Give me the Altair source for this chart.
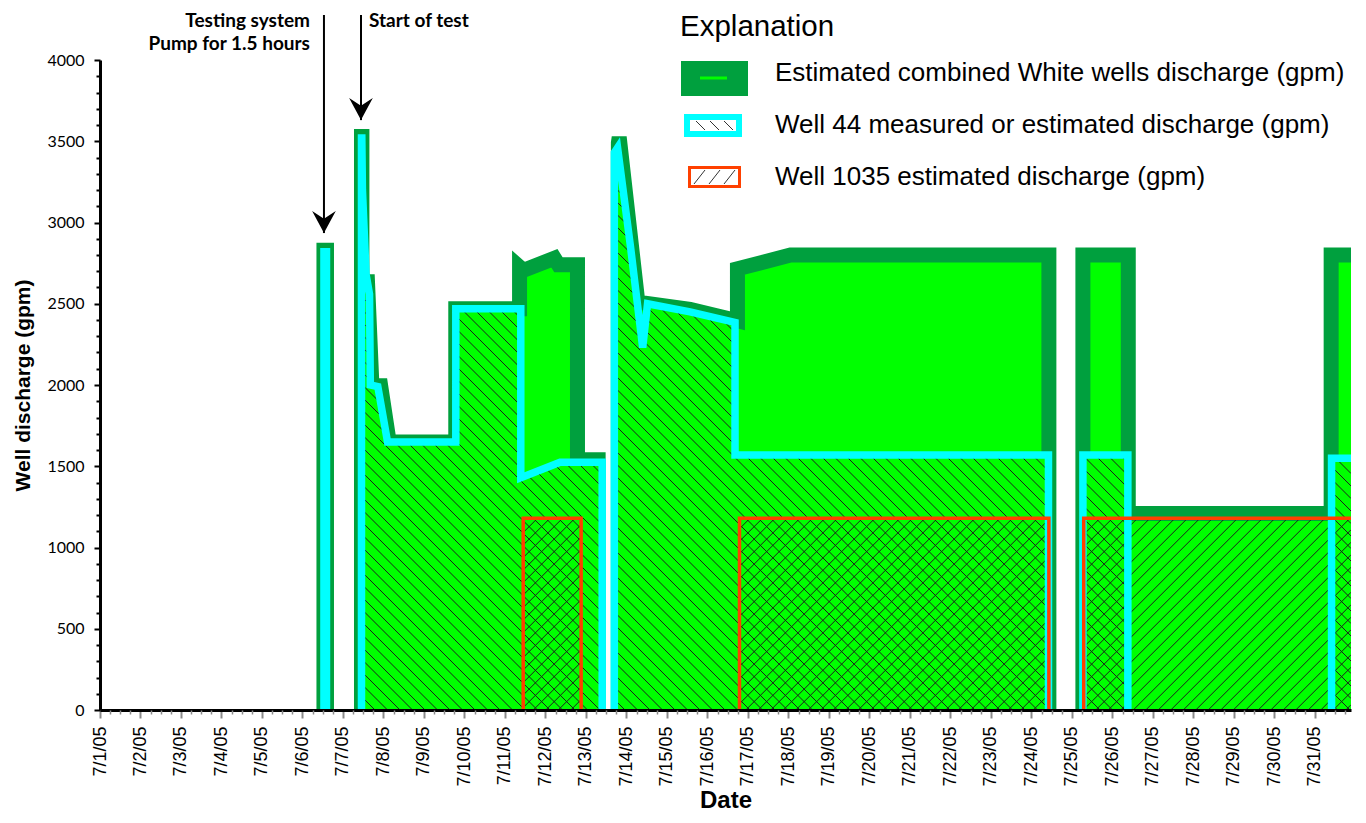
import json
import numpy as np
import pandas as pd
import altair as alt

# ---------------- data (day of July 2005, discharge in gpm) ----------------
combined_day = [1.0, 6.53, 6.53, 6.5925, 6.5925, 7.457, 7.457, 7.467, 7.467, 7.605,
                7.715, 7.93, 8.14, 9.785, 9.785, 11.36, 11.36, 11.45, 12.22, 12.32,
                12.79, 12.79, 13.30, 13.30, 13.80, 13.80, 13.82, 14.28, 15.57, 16.74,
                16.74, 18.05, 24.43, 24.43, 25.27, 25.27, 26.39, 26.39, 31.40, 31.40, 32.0]
combined_gpm = [0, 0, 2830, 2830, 0, 0, 3530, 3530, 2635, 2635,
                1995, 1995, 1650, 1650, 2470, 2470, 2725, 2705, 2780, 2740,
                2740, 1540, 1540, 0, 0, 3490, 3525, 2510, 2465, 2395,
                2715, 2800, 2800, 0, 0, 2800, 2800, 1210, 1210, 2800, 2800]

w44_day = [1.0, 6.53, 6.53, 6.5925, 6.5925, 7.457, 7.457, 7.465, 7.48, 7.57,
           7.655, 7.675, 7.86, 8.10, 9.785, 9.785, 11.39, 11.39, 12.36, 13.40,
           13.40, 13.70, 13.70, 13.78, 14.10, 14.40, 14.52, 15.57, 16.68, 16.68,
           24.42, 24.42, 25.27, 25.27, 26.38, 26.38, 31.41, 31.41, 32.0]
w44_gpm = [0, 0, 2820, 2820, 0, 0, 3520, 3520, 3200, 2680,
           2560, 2000, 1990, 1650, 1650, 2470, 2470, 1430, 1525, 1525,
           0, 0, 3430, 3460, 2850, 2230, 2500, 2450, 2385, 1570,
           1570, 0, 0, 1570, 1570, 0, 0, 1550, 1550]

w1035_day = [1.0, 11.45, 11.45, 12.88, 12.88, 16.79, 16.79, 24.43, 24.43, 25.29, 25.29, 32.0]
w1035_gpm = [0, 0, 1180, 1180, 0, 0, 1180, 1180, 0, 0, 1180, 1180]

tick_days = list(range(1, 32))
tick_labels = ["7/%d/05" % d for d in tick_days]
y_ticks = [0, 500, 1000, 1500, 2000, 2500, 3000, 3500, 4000]

annot_text = ["Testing system\nPump for 1.5 hours", "Start of test"]
annot_day = [6.53, 7.444]
annot_tip = [2935, 3630]

legend_title = "Explanation"
legend_labels = ["Estimated combined White wells discharge (gpm)",
                 "Well 44 measured or estimated discharge (gpm)",
                 "Well 1035 estimated discharge (gpm)"]

# ---------------- layout constants ----------------
X0, X1 = 1.0, 31.89
Y1 = 4000
W, H = 1251, 650
PXD = W / (X1 - X0)
PXV = H / Y1

DARK = "#00A03E"
BRIGHT = "#00FF00"
CYAN = "#00FFFF"
RED = "#FF4000"
HATCH = "#1e1e1e"
LEG_FONT = "Liberation Sans"


def series_table(days, gpm):
    t = np.asarray(days, float) + np.arange(len(days)) * 1e-7
    return pd.DataFrame({"t": t, "v": np.asarray(gpm, float), "i": np.arange(len(days))})


def outline_table(days, gpm):
    tab = series_table(days, gpm)
    rows, seg, inside, n = [], 0, False, len(gpm)
    for k in range(n):
        v = gpm[k]
        nxt = gpm[k + 1] if k + 1 < n else 0
        if not inside:
            if (v == 0 and nxt > 0) or v > 0:
                inside = True
                seg += 1
                rows.append((tab.t[k], v, k, seg))
        else:
            rows.append((tab.t[k], v, k, seg))
            if v == 0:
                inside = False
    return pd.DataFrame(rows, columns=["t", "v", "i", "seg"])


def hatch_segments(days, gpm, kind, spacing=12.5, step=0.25):
    t = np.asarray(days, float) + np.arange(len(days)) * 1e-7
    v = np.asarray(gpm, float)
    px = np.arange(0.0, W + step, step)
    hgt = np.interp(X0 + px / PXD, t, v) * PXV
    top = hgt.max()
    if kind == "back":
        offsets = np.arange(0.0, W + top + spacing, spacing)
    else:
        offsets = np.arange(-top - spacing, W + spacing, spacing)
    rows = []
    for c in offsets:
        yy = (c - px) if kind == "back" else (px - c)
        ok = (yy >= 0) & (yy <= hgt)
        if not ok.any():
            continue
        edges = np.diff(np.concatenate([[0], ok.astype(int), [0]]))
        starts = np.where(edges == 1)[0]
        ends = np.where(edges == -1)[0] - 1
        for s, e in zip(starts, ends):
            if e - s < 4:
                continue
            rows.append({"t1": X0 + px[s] / PXD, "v1": yy[s] / PXV,
                         "t2": X0 + px[e] / PXD, "v2": yy[e] / PXV})
    return pd.DataFrame(rows)


xscale = alt.Scale(domain=[X0, X1], nice=False, zero=False)
yscale = alt.Scale(domain=[0, Y1], nice=False)


def xe(field, axis=None):
    return alt.X(f"{field}:Q", scale=xscale, axis=axis)


def ye(field, axis=None):
    return alt.Y(f"{field}:Q", scale=yscale, axis=axis, stack=None)


label_expr = json.dumps(tick_labels) + "[round(datum.value) - 1]"

x_axis = alt.Axis(values=tick_days, labelExpr=label_expr, labelAngle=270, labelAlign="right",
                  labelBaseline="middle", labelFont="Liberation Sans", labelFontSize=18,
                  labelColor="black", labelPadding=8, labelOverlap=False, labelFlush=False,
                  tickColor="#8a8a8a", tickWidth=2, tickSize=8, domainColor="black",
                  domainWidth=3, grid=False, title="Date", titleFont="Liberation Sans",
                  titleFontSize=24, titleFontWeight="bold", titleColor="black",
                  titlePadding=2, zindex=1)
y_axis = alt.Axis(values=y_ticks, format="d", labelFont="Lato", labelFontSize=16,
                  labelColor="black", labelPadding=10, tickColor="black", tickWidth=2,
                  tickSize=6, domainColor="black", domainWidth=3, grid=False,
                  title="Well discharge  (gpm)", titleFont="Liberation Sans",
                  titleFontSize=21, titleFontWeight="bold", titleColor="black",
                  titlePadding=13, zindex=1)

minor_x = [d + q for d in range(1, 32) for q in (0.25, 0.5, 0.75) if d + q < X1]
minor_y = [v for v in range(0, 4001, 100) if v % 500]
x_minor_axis = alt.Axis(values=minor_x, labels=False, title=None, domain=False,
                        tickColor="#8a8a8a", tickWidth=1.5, tickSize=4, grid=False,
                        orient="bottom", zindex=1)
y_minor_axis = alt.Axis(values=minor_y, labels=False, title=None, domain=False,
                        tickColor="black", tickWidth=2, tickSize=4, grid=False,
                        orient="left", zindex=1)

comb = series_table(combined_day, combined_gpm)
w44 = series_table(w44_day, w44_gpm)
comb_out = outline_table(combined_day, combined_gpm)
w44_out = outline_table(w44_day, w44_gpm)
w1035_out = outline_table(w1035_day, w1035_gpm)
hatch44 = hatch_segments(w44_day, w44_gpm, "back")
hatch1035 = hatch_segments(w1035_day, w1035_gpm, "fwd")

layers = []
# combined White wells fill
layers.append(alt.Chart(comb).mark_area(color=BRIGHT, clip=True).encode(
    x=xe("t", x_axis), y=ye("v", y_axis)))
# combined outline
layers.append(alt.Chart(comb_out).mark_line(color=DARK, strokeWidth=15, clip=True,
                                            strokeJoin="miter", strokeMiterLimit=4,
                                            strokeCap="butt").encode(
    x=xe("t"), y=ye("v"), detail="seg:N", order=alt.Order("i:Q")))
# well 44 fill
layers.append(alt.Chart(w44).mark_area(color=BRIGHT, clip=True).encode(x=xe("t"), y=ye("v")))
# hatches
for hdf in (hatch44, hatch1035):
    layers.append(alt.Chart(hdf).mark_rule(color=HATCH, strokeWidth=1, clip=True).encode(
        x=xe("t1"), y=ye("v1"), x2="t2:Q", y2="v2:Q"))
# well 44 outline
layers.append(alt.Chart(w44_out).mark_line(color=CYAN, strokeWidth=7.5, clip=True,
                                           strokeJoin="miter", strokeMiterLimit=4,
                                           strokeCap="butt").encode(
    x=xe("t"), y=ye("v"), detail="seg:N", order=alt.Order("i:Q")))
# well 1035 outline
layers.append(alt.Chart(w1035_out).mark_line(color=RED, strokeWidth=3.5, clip=True,
                                             strokeJoin="miter", strokeCap="butt").encode(
    x=xe("t"), y=ye("v"), detail="seg:N", order=alt.Order("i:Q")))

# minor tick axes
layers.append(alt.Chart(pd.DataFrame({"t": [X0], "v": [0]})).mark_point(opacity=0).encode(
    x=xe("t", x_minor_axis), y=ye("v", y_minor_axis)))

# annotations with arrows
annot = pd.DataFrame({"text": annot_text, "day": annot_day, "tip": annot_tip})
layers.append(alt.Chart(annot).mark_rule(color="black", strokeWidth=2).encode(
    x=xe("day"), y=ye("tip"), y2=alt.value(-45)))
layers.append(alt.Chart(annot).mark_point(shape="M0,1 L-1,-0.85 L0,-0.2 L1,-0.85 Z", size=560,
                                          filled=True, color="black", opacity=1,
                                          yOffset=-12).encode(x=xe("day"), y=ye("tip")))
layers.append(alt.Chart(annot.iloc[[0]]).mark_text(align="right", baseline="top", dx=-14,
                                                   font="Lato", fontWeight="bold", fontSize=19,
                                                   lineBreak="\n", lineHeight=23,
                                                   color="black").encode(
    x=xe("day"), y=alt.value(-48), text="text:N"))
layers.append(alt.Chart(annot.iloc[[1]]).mark_text(align="left", baseline="top", dx=8,
                                                   font="Lato", fontWeight="bold", fontSize=19,
                                                   color="black").encode(
    x=xe("day"), y=alt.value(-48), text="text:N"))

# legend (Explanation)
one = pd.DataFrame({"k": [0]})
layers.append(alt.Chart(pd.DataFrame({"label": [legend_title]})).mark_text(
    align="left", baseline="middle", font=LEG_FONT, fontSize=29.5, color="black").encode(
    x=alt.value(580), y=alt.value(-33), text="label:N"))
for i, lab in enumerate(legend_labels):
    layers.append(alt.Chart(pd.DataFrame({"label": [lab]})).mark_text(
        align="left", baseline="middle", font=LEG_FONT, fontSize=26, color="black").encode(
        x=alt.value(675), y=alt.value(13 + 52 * i), text="label:N"))
layers.append(alt.Chart(one).mark_rect(color=DARK).encode(
    x=alt.value(581), x2=alt.value(648), y=alt.value(1), y2=alt.value(36)))
layers.append(alt.Chart(one).mark_rule(color=BRIGHT, strokeWidth=3).encode(
    x=alt.value(600), x2=alt.value(627), y=alt.value(18), y2=alt.value(18)))
layers.append(alt.Chart(one).mark_rect(fill="white", stroke=CYAN, strokeWidth=6).encode(
    x=alt.value(587), x2=alt.value(639), y=alt.value(57), y2=alt.value(74)))
for x in (596, 610, 624):
    layers.append(alt.Chart(one).mark_rule(color="#333333", strokeWidth=1).encode(
        x=alt.value(x), x2=alt.value(x + 9), y=alt.value(61), y2=alt.value(70)))
layers.append(alt.Chart(one).mark_rect(fill="white", stroke=RED, strokeWidth=3).encode(
    x=alt.value(589.5), x2=alt.value(639.5), y=alt.value(107.5), y2=alt.value(126.5)))
for x in (594, 609, 624):
    layers.append(alt.Chart(one).mark_rule(color="#333333", strokeWidth=1).encode(
        x=alt.value(x), x2=alt.value(x + 11), y=alt.value(124), y2=alt.value(110)))

chart = alt.layer(*layers).resolve_axis(x="independent", y="independent").properties(
    width=W, height=H,
    autosize=alt.AutoSizeParams(type="none"),
    padding={"left": 92, "top": 52, "right": 7, "bottom": 105},
    background="white"
).configure_view(stroke=None)

chart.save("out.html", embed_options={"renderer": "svg", "actions": False})
